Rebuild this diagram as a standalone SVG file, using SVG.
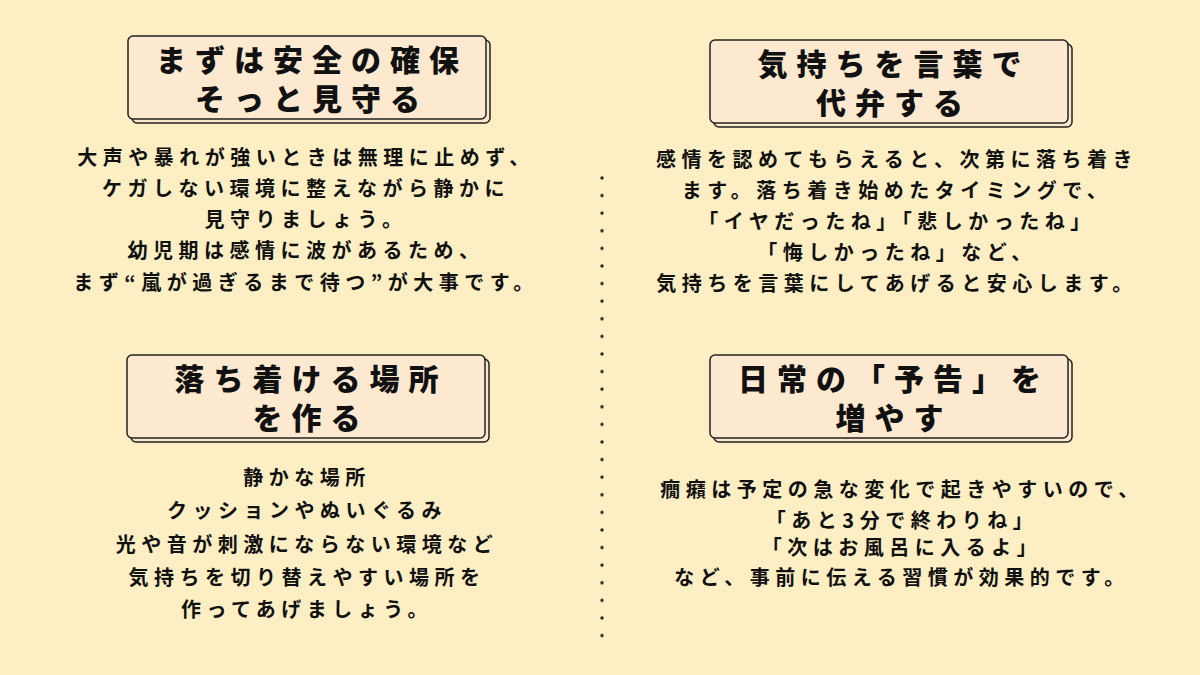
<svg xmlns="http://www.w3.org/2000/svg" width="1200" height="675" viewBox="0 0 1200 675">
<style>
.t{font-family:"Noto Sans CJK JP",sans-serif;font-weight:900;font-size:30px;letter-spacing:9px;fill:#111;text-anchor:middle}
.b{font-family:"Noto Sans CJK JP",sans-serif;font-weight:700;font-size:20px;letter-spacing:5.5px;fill:#111;text-anchor:middle}
.sh{fill:#fbe8cc;stroke:#222;stroke-width:1.5}
.fr{fill:#fde9cf;stroke:#222;stroke-width:1.5}
</style>
<defs><pattern id="d" width="10" height="17.6" patternUnits="userSpaceOnUse"><circle cx="2" cy="2" r="1.7" fill="#222"/></pattern></defs>
<rect width="1200" height="675" fill="#fdefc3"/>
<g id="divider"><rect x="599" y="163" width="5" height="480" fill="url(#d)"/></g>
<g id="n1">
<rect class="sh" x="132" y="40" width="358" height="83" rx="5"/>
<rect class="fr" x="128" y="36" width="358" height="83" rx="5"/>
<text class="t" x="312" y="71">まずは安全の確保</text>
<text class="t" x="312" y="110">そっと見守る</text>
</g>
<g id="n2">
<rect class="sh" x="714" y="44" width="358" height="83" rx="5"/>
<rect class="fr" x="710" y="40" width="358" height="83" rx="5"/>
<text class="t" x="894" y="75">気持ちを言葉で</text>
<text class="t" x="894" y="114">代弁する</text>
</g>
<g id="n3">
<rect class="sh" x="131" y="359" width="358" height="83" rx="5"/>
<rect class="fr" x="127" y="355" width="358" height="83" rx="5"/>
<text class="t" x="311" y="390">落ち着ける場所</text>
<text class="t" x="311" y="429">を作る</text>
</g>
<g id="n4">
<rect class="sh" x="714" y="359" width="358" height="83" rx="5"/>
<rect class="fr" x="710" y="355" width="358" height="83" rx="5"/>
<text class="t" x="894" y="390">日常の「予告」を</text>
<text class="t" x="894" y="429">増やす</text>
</g>
<g id="b1">
<text class="b" x="306" y="165">大声や暴れが強いときは無理に止めず、</text>
<text class="b" x="306" y="196">ケガしない環境に整えながら静かに</text>
<text class="b" x="306" y="227">見守りましょう。</text>
<text class="b" x="306" y="258">幼児期は感情に波があるため、</text>
<text class="b" x="306" y="290">まず“嵐が過ぎるまで待つ”が大事です。</text>
</g>
<g id="b2">
<text class="b" x="897" y="167">感情を認めてもらえると、次第に落ち着き</text>
<text class="b" x="897" y="198">ます。落ち着き始めたタイミングで、</text>
<text class="b" x="897" y="229">「イヤだったね」「悲しかったね」</text>
<text class="b" x="897" y="260">「悔しかったね」など、</text>
<text class="b" x="897" y="291">気持ちを言葉にしてあげると安心します。</text>
</g>
<g id="b3">
<text class="b" x="307" y="485">静かな場所</text>
<text class="b" x="307" y="518">クッションやぬいぐるみ</text>
<text class="b" x="307" y="552">光や音が刺激にならない環境など</text>
<text class="b" x="307" y="585">気持ちを切り替えやすい場所を</text>
<text class="b" x="307" y="617">作ってあげましょう。</text>
</g>
<g id="b4">
<text class="b" x="902" y="497">癇癪は予定の急な変化で起きやすいので、</text>
<text class="b" x="902" y="528">「あと3分で終わりね」</text>
<text class="b" x="902" y="555">「次はお風呂に入るよ」</text>
<text class="b" x="902" y="585">など、事前に伝える習慣が効果的です。</text>
</g>
</svg>
